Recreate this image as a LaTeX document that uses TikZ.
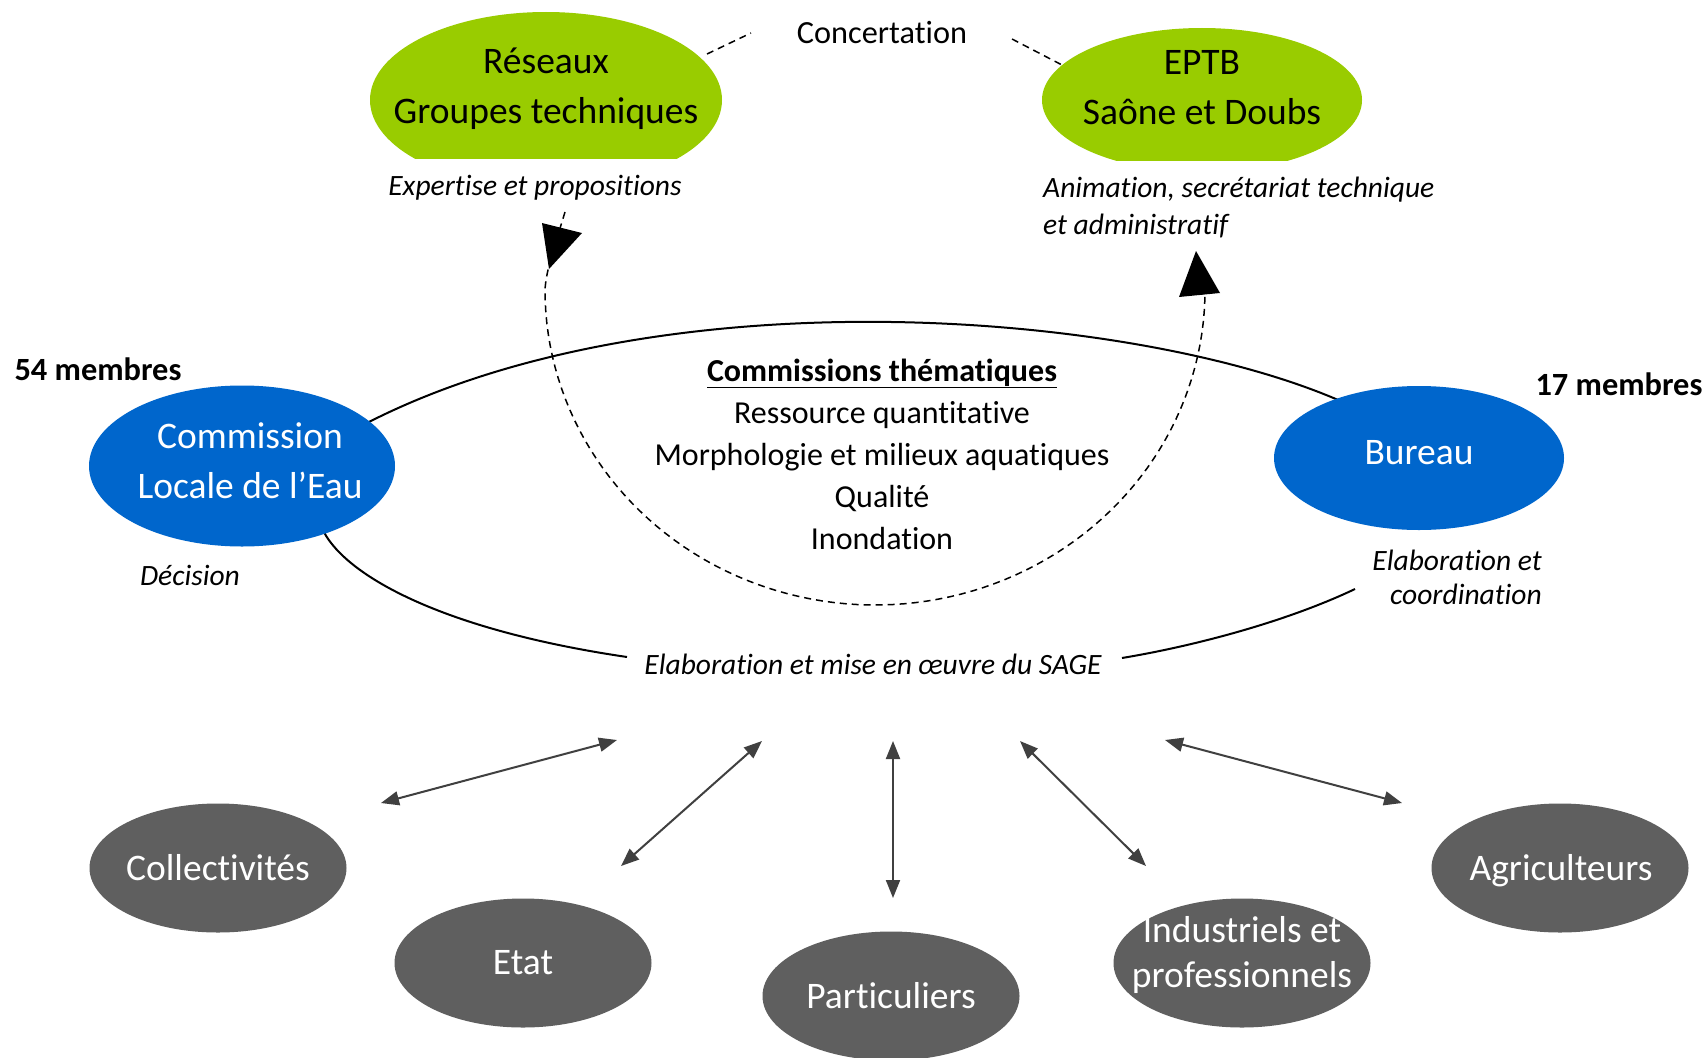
\documentclass[tikz,border=0pt]{standalone}
\usepackage{fontspec}
\setmainfont{Carlito}[Ligatures={NoCommon}]
\usetikzlibrary{arrows.meta,shapes.geometric}
\definecolor{cgreen}{HTML}{99CC00}
\definecolor{cblue}{HTML}{0066CC}
\definecolor{cgray}{HTML}{5F5F5F}
\definecolor{carrow}{HTML}{404040}
\begin{document}
\begin{tikzpicture}[x=1pt,y=-1pt,
  ellbase/.style={shape=ellipse, inner sep=0pt, draw=none},
  greenell/.style={ellbase, fill=cgreen},
  blueell/.style={ellbase, fill=cblue, minimum width=306pt, minimum height=161pt},
  grayell/.style={ellbase, fill=cgray, minimum width=257pt, minimum height=129pt},
  biglbl/.style={align=center, inner sep=0pt, font=\fontsize{37.5}{49}\selectfont},
  whitelbl/.style={biglbl, text=white},
  itlbl/.style={inner sep=0pt, font=\itshape\fontsize{29.5}{36}\selectfont},
  boldlbl/.style={inner sep=0pt, font=\bfseries\fontsize{32.4}{38}\selectfont},
  thin dash/.style={line width=1.5pt, dash pattern=on 7pt off 5pt},
  biarrow/.style={{Triangle[length=18pt,width=14pt]}-{Triangle[length=18pt,width=14pt]}, line width=2pt, draw=carrow},
  arcline/.style={line width=2pt, draw=black}
]
\useasboundingbox (0,0) rectangle (1707,1057);
\fill[white] (0,0) rectangle (1707,1057);

% named coordinates for free ends
\coordinate (upA) at (350,432);
\coordinate (upB) at (1345,403);
\coordinate (loA) at (322,528);
\coordinate (loB) at (627,657);
\coordinate (loC) at (1122,658);
\coordinate (loD) at (1355,589);

% big arcs (drawn first, hidden under ellipses)
\draw[arcline] (upA) .. controls (644,270) and (1138,310) .. (upB);
\draw[arcline] (loA) .. controls (340,570) and (430,628) .. (loB);
\draw[arcline] (loC) .. controls (1200,645) and (1290,620) .. (loD);

% dashed U-curve from Reseaux to EPTB
\draw[thin dash] (565,212) .. controls (555,245) and (546,270) .. (545,290)
  -- plot[domain=180:360,samples=90] ({875+330*cos(\x)},{290-315*sin(\x)})
  -- (1201,296);
\fill[black] (542,223) -- (582,233) -- (549,269) -- cycle;
\fill[black] (1196,251) -- (1179,297) -- (1220,293) -- cycle;

% green clipped ellipses
\begin{scope}
  \clip (0,0) rectangle (1707,158);
  \node[greenell, minimum width=352pt, minimum height=176pt] (resE) at (546,100) {};
\end{scope}
\begin{scope}
  \clip (0,0) rectangle (1707,160);
  \node[greenell, minimum width=320pt, minimum height=144pt] (eptbE) at (1202,100) {};
\end{scope}
\node[biglbl, font=\fontsize{37.5}{50}\selectfont] (res) at (546,89) {Réseaux\\Groupes techniques};
\node[biglbl, font=\fontsize{37.5}{50}\selectfont] (eptb) at (1202,88) {EPTB\\Saône et Doubs};

% concertation
\node[inner sep=0pt, font=\fontsize{32.3}{38}\selectfont] (conc) at (882,33) {Concertation};
\coordinate (cL1) at (707,54); \coordinate (cL2) at (751,33);
\coordinate (cR1) at (1012,39); \coordinate (cR2) at (1062,65);
\draw[thin dash] (cL1) -- (cL2);
\draw[thin dash] (cR1) -- (cR2);

\node[itlbl] (expert) at (535,188) {Expertise et propositions};
\node[itlbl, align=left, anchor=west, font=\itshape\fontsize{29.5}{37}\selectfont] (anim) at (1043,207) {Animation, secrétariat technique\\et administratif};

% blue ellipses
\node[blueell] (cleE) at (242,466) {};
\node[whitelbl, font=\fontsize{37.5}{50}\selectfont] (cle) at (250,461) {Commission\\Locale de l’Eau};
\node[blueell, minimum width=290pt, minimum height=144pt] (burE) at (1419,458) {};
\node[whitelbl] (bur) at (1419,453) {Bureau};

\node[boldlbl] (m54) at (98,369) {54 membres};
\node[boldlbl] (m17) at (1619,384) {17 membres};
\node[itlbl] (dec) at (190,575) {Décision};
\node[itlbl, align=right, anchor=east, font=\itshape\fontsize{29.5}{34}\selectfont] (elab) at (1542,577) {Elaboration et\\coordination};

% commissions thematiques
\node[align=center, inner sep=0pt, font=\fontsize{32}{42}\selectfont] (ct) at (882,454)
  {\textbf{\underline{Commissions thématiques}}\\Ressource quantitative\\Morphologie et milieux aquatiques\\Qualité\\Inondation};

\node[itlbl] (sage) at (873,664) {Elaboration et mise en œuvre du SAGE};

% gray ellipses
\node[grayell] (colE) at (218,868) {};
\node[whitelbl] (col) at (218,868) {Collectivités};
\node[grayell] (etaE) at (523,963) {};
\node[whitelbl] (eta) at (523,963) {Etat};
\node[grayell] (parE) at (891,996) {};
\node[whitelbl] (par) at (891,996) {Particuliers};
\node[grayell] (indE) at (1242,963) {};
\node[whitelbl, font=\fontsize{37.5}{45}\selectfont] (ind) at (1242,955) {Industriels et\\professionnels};
\node[grayell] (agrE) at (1560,868) {};
\node[whitelbl] (agr) at (1561,871) {Agriculteurs};

% double arrows
\coordinate (a1s) at (381,803); \coordinate (a1e) at (617,740);
\coordinate (a2s) at (621,866); \coordinate (a2e) at (762,741);
\coordinate (a3s) at (893,898); \coordinate (a3e) at (893,741);
\coordinate (a4s) at (1146,866); \coordinate (a4e) at (1020,741);
\coordinate (a5s) at (1402,803); \coordinate (a5e) at (1165,740);
\draw[biarrow] (a1s) -- (a1e);
\draw[biarrow] (a2s) -- (a2e);
\draw[biarrow] (a3s) -- (a3e);
\draw[biarrow] (a4s) -- (a4e);
\draw[biarrow] (a5s) -- (a5e);
\end{tikzpicture}
\end{document}
